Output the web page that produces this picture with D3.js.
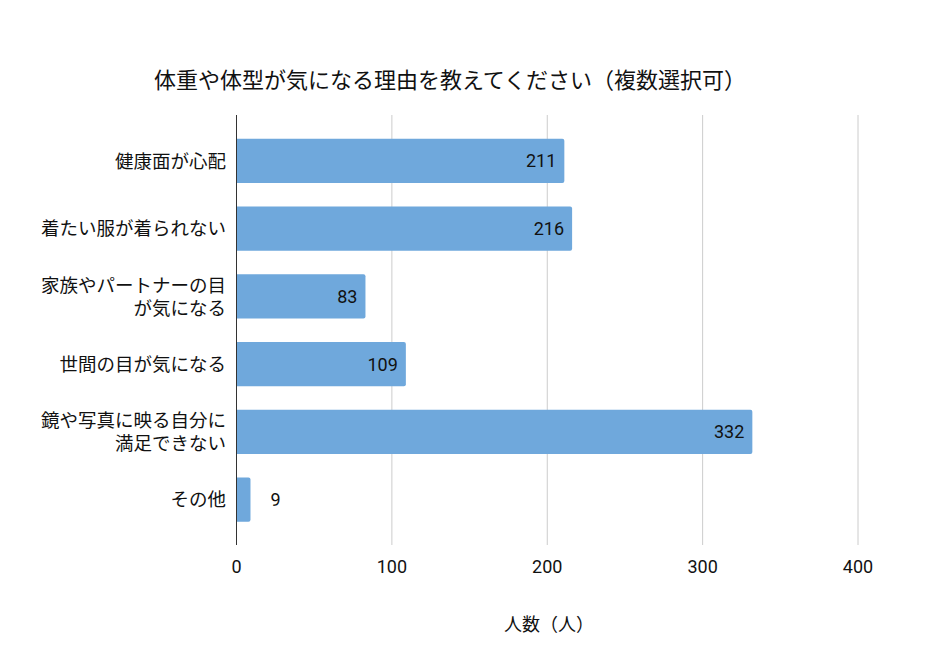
<!DOCTYPE html>
<html><head><meta charset="utf-8">
<script src="https://cdn.jsdelivr.net/npm/d3@7"></script>
<style>body{margin:0;background:#fff;} svg{display:block;font-family:Roboto,"Noto Sans CJK JP",sans-serif;}</style>
</head><body>
<svg id="c" width="930" height="670"></svg>
<script>
const categories = [["健康面が心配"],["着たい服が着られない"],["家族やパートナーの目","が気になる"],["世間の目が気になる"],["鏡や写真に映る自分に","満足できない"],["その他"]];
const values = [211,216,83,109,332,9];
const xTicks = [0,100,200,300,400];
const title = "体重や体型が気になる理由を教えてください（複数選択可）";
const xTitle = "人数（人）";

const svg = d3.select("#c");
svg.append("rect").attr("width",930).attr("height",670).attr("fill","#fff");
const x = d3.scaleLinear().domain([0,400]).range([236.5,858]);
const y = d3.scaleBand().domain(d3.range(categories.length)).range([127,533.5]).paddingInner(0.35).paddingOuter(0.175);
const plotTop=115, plotBottom=545;

svg.append("g").selectAll("line").data(xTicks.filter(d=>d>0)).join("line")
  .attr("x1",d=>x(d)).attr("x2",d=>x(d)).attr("y1",plotTop).attr("y2",plotBottom)
  .attr("stroke","#cccccc").attr("stroke-width",1);

svg.append("g").selectAll("path").data(values).join("path")
  .attr("fill","#6fa8dc")
  .attr("d",(d,i)=>{const x0=x(0),x1=x(d),y0=y(i),h=y.bandwidth(),r=2;
    return `M${x0},${y0}H${x1-r}Q${x1},${y0} ${x1},${y0+r}V${y0+h-r}Q${x1},${y0+h} ${x1-r},${y0+h}H${x0}Z`;});

svg.append("line").attr("x1",x(0)).attr("x2",x(0)).attr("y1",plotTop).attr("y2",plotBottom).attr("stroke","#333").attr("stroke-width",1);

svg.append("g").selectAll("text").data(values).join("text")
  .attr("x",(d,i)=> d<30 ? x(d)+20 : x(d)-8)
  .attr("y",(d,i)=>y(i)+y.bandwidth()/2)
  .attr("dy","0.36em")
  .attr("text-anchor",d=>d<30?"start":"end")
  .attr("font-size",18).attr("fill","#111")
  .text(d=>d);

const yl = svg.append("g").selectAll("text").data(categories).join("text")
  .attr("x",226).attr("text-anchor","end").attr("font-size",18.5).attr("fill","#111")
  .attr("y",(d,i)=>y(i)+y.bandwidth()/2);
yl.each(function(d){
  const t=d3.select(this); const n=d.length;
  d.forEach((s,k)=>{t.append("tspan").attr("x",226).attr("dy", k===0 ? (0.36-(n-1)*0.62)+"em" : "1.24em").text(s);});
});

svg.append("g").selectAll("text").data(xTicks).join("text")
  .attr("x",d=>x(d)).attr("y",567).attr("dy","0.36em").attr("text-anchor","middle")
  .attr("font-size",18).attr("fill","#111").text(d=>d);

svg.append("text").attr("x",450).attr("y",80).attr("dy","0.36em").attr("text-anchor","middle")
  .attr("font-size",22).attr("fill","#111").text(title);
svg.append("text").attr("x",549).attr("y",625).attr("dy","0.36em").attr("text-anchor","middle")
  .attr("font-size",18).attr("fill","#111").text(xTitle);
</script>
</body></html>
